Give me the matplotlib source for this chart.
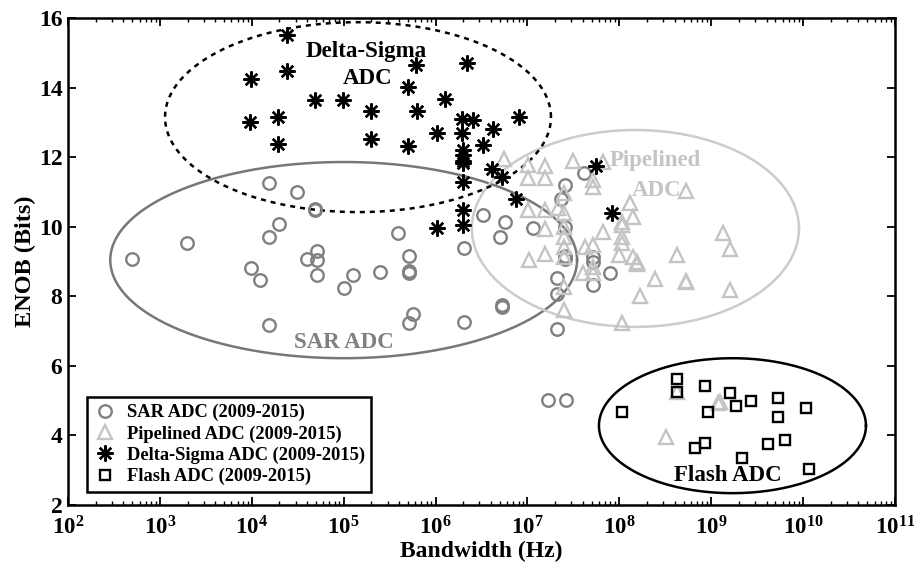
import numpy as np
import matplotlib
matplotlib.use("Agg")
import matplotlib.pyplot as plt
from matplotlib.ticker import FixedLocator, FuncFormatter, LogLocator, NullFormatter

plt.rcParams['font.family'] = ['Liberation Serif', 'DejaVu Serif']
plt.rcParams['font.weight'] = 'bold'
plt.rcParams['mathtext.fontset'] = 'custom'
plt.rcParams['mathtext.rm'] = 'Liberation Serif:bold'
plt.rcParams['mathtext.bf'] = 'Liberation Serif:bold'
plt.rcParams['mathtext.it'] = 'Liberation Serif:bold:italic'

# ---------------- data ----------------
sar_bw = [500, 1970, 15400, 31000, 48800, 48800, 19800, 15400, 9800, 12300, 15400,
          390000, 50800, 40200, 50800, 50800, 127000, 101600, 251000, 509000, 509000,
          509000, 572000, 509000, 2.05e6, 2.05e6, 3.25e6, 5.69e6, 5.06e6, 1.14e7,
          5.25e6, 5.25e6, 2.08e7, 2.08e7, 2.08e7, 2.58e7, 2.33e7, 4.15e7, 2.58e7,
          2.58e7, 2.58e7, 5.2e7, 5.2e7, 7.9e7, 5.2e7, 1.67e7, 2.62e7]
sar_enob = [9.07, 9.53, 11.25, 10.99, 10.52, 10.48, 10.07, 9.70, 8.81, 8.47, 7.17,
            9.81, 9.31, 9.07, 9.04, 8.62, 8.60, 8.24, 8.70, 9.15, 8.72,
            8.66, 7.48, 7.22, 9.38, 7.25, 10.33, 10.14, 9.69, 9.97,
            7.75, 7.70, 7.07, 8.54, 8.08, 11.2, 10.81, 11.53, 10.0,
            9.15, 9.08, 9.12, 9.0, 8.66, 8.32, 5.02, 5.02]

pipe_bw = [5.55e6, 1.02e7, 1.02e7, 1.55e7, 1.55e7, 3.16e7, 6.7e7, 5.2e7, 5.2e7, 2.5e7,
           2.5e7, 1.02e7, 1.57e7, 2.16e7, 1.55e7, 2.5e7, 1.05e7, 1.57e7, 2.5e7, 2.5e7,
           2.5e7, 2.5e7, 2.5e7, 4.23e7, 5.2e7, 6.7e7, 5.2e7, 4.0e7, 5.2e7, 5.3e8,
           1.3e8, 1.42e8, 1.06e8, 1.06e8, 1.06e8, 1.06e8, 1.0e8, 1.42e8, 1.55e8, 1.55e8,
           4.2e8, 1.33e9, 1.6e9, 2.44e8, 5.3e8, 5.3e8, 1.67e8, 1.6e9, 1.06e8, 3.18e8,
           1.26e9, 1.2e9, 4.2e8]
pipe_enob = [11.96, 11.77, 11.39, 11.74, 11.41, 11.89, 11.86, 11.34, 11.15, 10.97,
             10.38, 10.48, 10.48, 10.53, 9.92, 10.0, 9.04, 9.21, 9.71, 9.42,
             9.13, 8.27, 7.6, 9.42, 9.47, 9.85, 8.85, 8.66, 8.66, 11.03,
             10.67, 10.28, 10.14, 10.05, 9.71, 9.52, 9.18, 9.13, 8.99, 8.92,
             9.18, 9.83, 9.35, 8.51, 8.44, 8.40, 8.01, 8.18, 7.24, 3.95,
             4.96, 4.92, 5.26]

ds_bw = [24300, 9720, 24000, 9550, 19400, 19400, 48800, 99000, 198000, 198000,
         613000, 505000, 622000, 505000, 1.26e6, 1.045e6, 2.18e6, 1.95e6, 2.57e6, 1.95e6,
         2.0e6, 2.0e6, 2.0e6, 4.25e6, 8.15e6, 3.25e6, 4.07e6, 5.24e6, 2.0e6, 7.5e6,
         2.0e6, 2.0e6, 1.045e6, 5.56e7, 8.24e7, 2.0e6]
ds_enob = [15.52, 14.26, 14.47, 13.0, 13.14, 12.39, 13.64, 13.64, 13.33, 12.51,
           14.66, 14.02, 13.33, 12.32, 13.66, 12.68, 14.71, 13.11, 13.06, 12.68,
           12.2, 12.05, 11.9, 12.82, 13.16, 12.34, 11.65, 11.43, 11.29, 10.81,
           10.48, 10.05, 9.95, 11.75, 10.4, 11.82]

flash_bw = [1.08e8, 4.2e8, 4.2e8, 8.5e8, 9.3e8, 1.6e9, 1.86e9, 2.69e9, 5.36e9, 5.36e9,
            1.07e10, 6.65e8, 8.5e8, 2.14e9, 4.1e9, 6.3e9, 1.17e10]
flash_enob = [4.66, 5.61, 5.26, 5.42, 4.66, 5.21, 4.85, 5.0, 5.08, 4.52,
              4.78, 3.63, 3.77, 3.34, 3.74, 3.87, 3.03]

legend_labels = ['SAR ADC (2009-2015)', 'Pipelined ADC (2009-2015)',
                 'Delta-Sigma ADC (2009-2015)', 'Flash ADC (2009-2015)']
x_tick_exps = list(range(2, 12))
y_ticks = [2, 4, 6, 8, 10, 12, 14, 16]

# ellipses: (center log10 bw, center enob, half-width decades, half-height bits)
ell_sar = (5.0, 9.04, 2.54, 2.82)
ell_pipe = (8.175, 9.95, 1.78, 2.83)
ell_ds = (5.156, 13.15, 2.1, 2.73)
ell_flash = (9.231, 4.28, 1.453, 1.94)

SAR_C = '#808080'
PIPE_C = '#c4c4c4'

fig = plt.figure(figsize=(9.24, 5.62), dpi=100)
ax = fig.add_axes([68/924, 1-505/562, 827/924, 487/562])
ax.set_xscale('log')


def draw_ellipse(p, **kw):
    t = np.linspace(0, 2*np.pi, 400)
    lx = p[0] + p[2]*np.cos(t)
    yy = p[1] + p[3]*np.sin(t)
    ax.plot(10**lx, yy, **kw)


ax.plot(sar_bw, sar_enob, linestyle='none', marker='o', ms=9, mfc='none',
        mec=SAR_C, mew=1.7, label=legend_labels[0], zorder=3)
ax.plot(pipe_bw, pipe_enob, linestyle='none', marker='^', ms=10, mfc='none',
        mec=PIPE_C, mew=1.7, label=legend_labels[1], zorder=3)
ax.plot(ds_bw, ds_enob, linestyle='none', marker=(8, 2, 0), ms=11.5, mfc='none',
        mec='black', mew=1.7, label=legend_labels[2], zorder=4)
ax.plot(flash_bw, flash_enob, linestyle='none', marker='s', ms=7.5, mfc='none',
        mec='black', mew=1.7, label=legend_labels[3], zorder=4)

draw_ellipse(ell_sar, color='#777777', lw=1.8, zorder=2)
draw_ellipse(ell_pipe, color='#cccccc', lw=1.8, zorder=2)
draw_ellipse(ell_ds, color='black', lw=1.8, linestyle=(0, (2, 2)), zorder=2)
draw_ellipse(ell_flash, color='black', lw=1.8, zorder=2)

ann_fs = 16.5
ax.text(10**5.24, 15.05, 'Delta-Sigma', fontsize=ann_fs, fontweight='bold',
        ha='center', va='center', color='black')
ax.text(10**5.26, 14.25, 'ADC', fontsize=ann_fs, fontweight='bold',
        ha='center', va='center', color='black')
ax.text(10**8.39, 11.9, 'Pipelined', fontsize=ann_fs, fontweight='bold',
        ha='center', va='center', color=PIPE_C)
ax.text(10**8.41, 11.05, 'ADC', fontsize=ann_fs, fontweight='bold',
        ha='center', va='center', color=PIPE_C)
ax.text(10**5.0, 6.68, 'SAR ADC', fontsize=ann_fs, fontweight='bold',
        ha='center', va='center', color=SAR_C)
ax.text(10**9.18, 2.84, 'Flash ADC', fontsize=ann_fs, fontweight='bold',
        ha='center', va='center', color='black')

ax.set_xlim(1e2, 1e11)
ax.set_ylim(2, 16)
ax.xaxis.set_major_locator(FixedLocator([10.0**e for e in x_tick_exps]))
ax.xaxis.set_major_formatter(FuncFormatter(lambda v, p: r'$\mathbf{10^{%d}}$' % round(np.log10(v))))
ax.xaxis.set_minor_locator(LogLocator(base=10, subs=np.arange(2, 10), numticks=100))
ax.xaxis.set_minor_formatter(NullFormatter())
ax.set_yticks(y_ticks)
ax.tick_params(axis='both', which='both', direction='in', top=True, right=True)
ax.tick_params(axis='y', which='major', length=6, width=1.3, labelsize=17, pad=4)
ax.tick_params(axis='x', which='major', length=6, width=1.3, labelsize=16.5, pad=8)
ax.tick_params(axis='x', which='minor', length=3, width=1.0)
for lab in ax.get_yticklabels():
    lab.set_fontweight('bold')
for s in ax.spines.values():
    s.set_linewidth(1.8)

ax.set_xlabel('Bandwidth (Hz)', fontsize=17, fontweight='bold')
ax.xaxis.set_label_coords(0.5, -0.074)
ax.set_ylabel('ENOB (Bits)', fontsize=17.5, fontweight='bold', labelpad=2)

leg = ax.legend(loc='lower left', bbox_to_anchor=(0.023, 0.027), borderaxespad=0,
                frameon=True, fancybox=False, handlelength=1.2,
                handletextpad=0.6, labelspacing=0.22, borderpad=0.35,
                prop={'weight': 'bold', 'size': 13.3})
leg.get_frame().set_edgecolor('black')
leg.get_frame().set_linewidth(1.8)
leg.get_frame().set_alpha(1)

fig.savefig('out.png', dpi=100)
